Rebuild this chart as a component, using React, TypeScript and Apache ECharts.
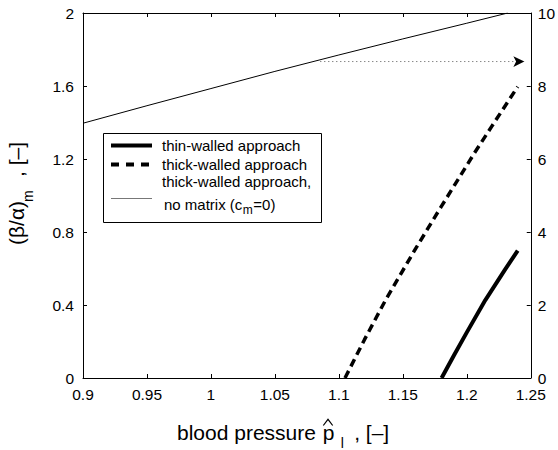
import React, { useEffect, useRef } from "react";
import * as echarts from "echarts";

const FONT = '"Liberation Sans", Arial, Helvetica, sans-serif';

// x axis (blood pressure) ticks
const xMin = 0.9;
const xMax = 1.25;
const xInterval = 0.05;
// left y axis
const yLeftMin = 0;
const yLeftMax = 2;
const yLeftInterval = 0.4;
// right y axis
const yRightMin = 0;
const yRightMax = 10;
const yRightInterval = 2;

// thin-walled approach (left axis)
const thinWalledX = [1.1803, 1.19, 1.2, 1.2145, 1.23, 1.2398];
const thinWalledY = [0, 0.125, 0.25, 0.427, 0.595, 0.698];

// thick-walled approach (left axis)
const thickWalledX = [1.1048, 1.12, 1.1365, 1.16, 1.18, 1.206, 1.22, 1.2398];
const thickWalledY = [0, 0.21, 0.427, 0.709, 0.939, 1.233, 1.384, 1.596];

// thick-walled approach, no matrix (right axis)
const noMatrixX = [0.9, 0.95, 1.0, 1.05, 1.1, 1.15, 1.2, 1.232];
const noMatrixY = [6.98, 7.46, 7.93, 8.4, 8.85, 9.29, 9.72, 10.0];

// dotted arrow pointing to the right axis
const arrowX = [1.0855, 1.245];
const arrowY = [8.67, 8.67];

const legendLabels = [
  "thin-walled approach",
  "thick-walled approach",
  "thick-walled approach,",
  "no matrix (c",
];

const pairs = (xs: number[], ys: number[]) => xs.map((x, i) => [x, ys[i]]);

export default function App() {
  const ref = useRef<HTMLDivElement>(null);

  useEffect(() => {
    if (!ref.current) return;
    const ctx = document.createElement("canvas").getContext("2d")!;
    const tw = (t: string, s: number) => {
      ctx.font = `${s}px "Liberation Sans"`;
      return ctx.measureText(t).width;
    };

    const chart = echarts.init(ref.current, null, { renderer: "svg" });

    const axisCommon = {
      axisLine: { show: true, onZero: false, lineStyle: { color: "#000", width: 1 } },
      axisTick: { show: true, inside: true, length: 4, lineStyle: { color: "#000", width: 1 } },
      splitLine: { show: false },
    };
    const labelStyle = { color: "#000", fontSize: 15.5, fontFamily: FONT, lineHeight: 12 };

    const txt = (text: string, x: number, y: number, size: number, align = "left") => ({
      type: "text",
      z: 100,
      style: {
        text,
        x,
        y,
        fill: "#000",
        fontSize: size,
        fontFamily: FONT,
        align,
        verticalAlign: "middle",
        textAlign: align,
        textVerticalAlign: "middle",
      },
    });

    // legend
    const lx = 103.5, ly = 133.5, lw = 218, lh = 89;
    const sampleX1 = 111, sampleX2 = 152, textX = 162;
    const row1 = 145.5, row2 = 164.5, row3a = 181, row3b = 204.5, row3line = 198.5;
    const lfs = 15;
    const nmW = tw(legendLabels[3], lfs);

    // x title positions
    const xtBase = 440;
    const xtMid = xtBase - 0.35 * 21;
    const pX = 322.7;

    // y title (rotated)
    const ytMidMain = -0.35 * 21;
    const ytMidSub = 9.6 - 0.35 * 14;

    const option = {
      animation: false,
      backgroundColor: "#fff",
      grid: { left: 83, right: 22, top: 13, bottom: 72, containLabel: false },
      xAxis: [
        {
          type: "value",
          min: xMin,
          max: xMax,
          interval: xInterval,
          position: "bottom",
          ...axisCommon,
          axisLabel: { ...labelStyle, margin: 10 },
        },
        {
          type: "value",
          min: xMin,
          max: xMax,
          interval: xInterval,
          position: "top",
          ...axisCommon,
          axisLabel: { show: false },
        },
      ],
      yAxis: [
        {
          type: "value",
          min: yLeftMin,
          max: yLeftMax,
          interval: yLeftInterval,
          position: "left",
          ...axisCommon,
          axisLabel: { ...labelStyle, margin: 9 },
        },
        {
          type: "value",
          min: yRightMin,
          max: yRightMax,
          interval: yRightInterval,
          position: "right",
          ...axisCommon,
          axisLabel: { ...labelStyle, margin: 7, padding: [0, 0, 3, 0] },
        },
      ],
      series: [
        {
          name: "thin-walled approach",
          type: "line",
          xAxisIndex: 0,
          yAxisIndex: 0,
          data: pairs(thinWalledX, thinWalledY),
          symbol: "none",
          lineStyle: { color: "#000", width: 4 },
        },
        {
          name: "thick-walled approach",
          type: "line",
          xAxisIndex: 0,
          yAxisIndex: 0,
          data: pairs(thickWalledX, thickWalledY),
          symbol: "none",
          lineStyle: { color: "#000", width: 3.5, type: [8, 5] },
        },
        {
          name: "thick-walled approach, no matrix",
          type: "line",
          xAxisIndex: 0,
          yAxisIndex: 1,
          data: pairs(noMatrixX, noMatrixY),
          symbol: "none",
          lineStyle: { color: "#000", width: 1 },
        },
        {
          name: "arrow",
          type: "line",
          xAxisIndex: 0,
          yAxisIndex: 1,
          clip: false,
          showSymbol: true,
          symbol: "arrow",
          symbolRotate: -90,
          symbolSize: [8, 11],
          itemStyle: { color: "#000" },
          data: [
            { value: [arrowX[0], arrowY[0]], symbol: "none" },
            { value: [arrowX[1], arrowY[1]], symbol: "arrow", symbolRotate: -90, symbolSize: [8, 11] },
          ],
          lineStyle: { color: "#555", width: 1, type: [1, 3] },
        },
      ],
      graphic: [
        {
          type: "rect",
          z: 99,
          shape: { x: lx, y: ly, width: lw, height: lh },
          style: { fill: "#fff", stroke: "#000", lineWidth: 1 },
        },
        {
          type: "line",
          z: 100,
          shape: { x1: sampleX1, y1: row1, x2: sampleX2, y2: row1 },
          style: { stroke: "#000", lineWidth: 4 },
        },
        {
          type: "line",
          z: 100,
          shape: { x1: sampleX1, y1: row2, x2: sampleX2, y2: row2 },
          style: { stroke: "#000", lineWidth: 4, lineDash: [8, 7] },
        },
        {
          type: "line",
          z: 100,
          shape: { x1: sampleX1, y1: row3line, x2: sampleX2, y2: row3line },
          style: { stroke: "#777", lineWidth: 1.2 },
        },
        txt(legendLabels[0], textX, row1, lfs),
        txt(legendLabels[1], textX, row2, lfs),
        txt(legendLabels[2], textX, row3a, lfs),
        txt(legendLabels[3], 164, row3b, lfs),
        txt("m", 164 + nmW + 0.5, row3b + 5, 12),
        txt("=0)", 164 + nmW + 0.5 + tw("m", 12) + 0.5, row3b, lfs),
        // x axis title
        txt("blood pressure", 177, xtMid, 21),
        txt("p", pX, xtMid, 21),
        {
          type: "polyline",
          z: 100,
          shape: { points: [[pX + 0.6, 425.5], [pX + 5.3, 419.3], [pX + 10, 425.5]] },
          style: { stroke: "#000", lineWidth: 1.2, fill: "none" },
        },
        txt("l", pX + 18, 447.5 - 0.35 * 14, 14),
        txt(", [–]", pX + 31.5, xtMid, 21),
        // y axis title (rotated)
        {
          type: "group",
          x: 23.6,
          y: 245,
          rotation: Math.PI / 2,
          children: [
            txt("(β/α)", 0, ytMidMain, 21),
            txt("m", 43, ytMidSub, 14),
            txt(", [–]", 68, ytMidMain, 21),
          ],
        },
      ],
    };

    chart.setOption(option as any);
    return () => chart.dispose();
  }, []);

  return (
    <div
      ref={ref}
      style={{ position: "fixed", left: 0, top: 0, width: 558, height: 450, background: "#fff" }}
    />
  );
}
